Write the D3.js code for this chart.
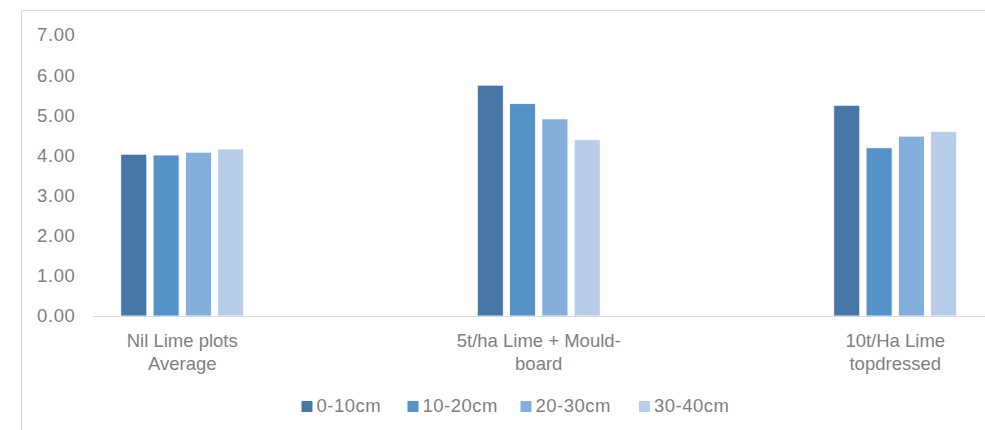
<!DOCTYPE html>
<html>
<head>
<meta charset="utf-8">
<script src="https://cdn.jsdelivr.net/npm/d3@7"></script>
<style>
  html, body { margin: 0; padding: 0; background: #ffffff; }
  svg { display: block; }
  text { font-family: "Liberation Sans", Arial, sans-serif; fill: #7f7f7f; }
</style>
</head>
<body>
<svg id="chart" width="985" height="430"></svg>
<script>
// ---- data ----
const categories = [
  ["Nil Lime plots", "Average"],
  ["5t/ha Lime + Mould-", "board"],
  ["10t/Ha Lime", "topdressed"]
];
const seriesNames = ["0-10cm", "10-20cm", "20-30cm", "30-40cm"];
const s0_10 = [4.03, 5.75, 5.25];
const s10_20 = [4.01, 5.29, 4.19];
const s20_30 = [4.08, 4.91, 4.48];
const s30_40 = [4.16, 4.39, 4.60];
const seriesValues = [s0_10, s10_20, s20_30, s30_40];
const yTicks = [0, 1, 2, 3, 4, 5, 6, 7];
const colors = ["#4677a7", "#5592c8", "#84aedb", "#b7cde9"];

// ---- layout ----
const svg = d3.select("#chart");
const catKeys = categories.map((c, i) => i);

const x0 = d3.scaleBand().domain(catKeys).range([4, 1073.5]).paddingInner(0).paddingOuter(0);
const x1 = d3.scaleBand().domain(seriesNames).range([-64.7, 64.7]).paddingInner(0.195).paddingOuter(0.1);
const y = d3.scaleLinear().domain([0, 7]).range([316, 35]);

// chart border (left & top)
svg.append("path")
  .attr("d", "M21.5,430 L21.5,10.5 L985,10.5")
  .attr("fill", "none").attr("stroke", "#d9d9d9").attr("stroke-width", 1);

// y axis (labels only)
const yAxis = d3.axisLeft(y).tickValues(yTicks).tickFormat(d3.format(".2f")).tickSize(0).tickPadding(0);
const gy = svg.append("g").attr("transform", "translate(75.5,0)").call(yAxis);
gy.select(".domain").remove();
gy.selectAll("text").attr("font-size", "18.5px").attr("letter-spacing", "0.6px")
  .style("font-family", "'Liberation Sans', Arial, sans-serif").attr("fill", "#7f7f7f");

// bars
const groups = svg.append("g").selectAll("g")
  .data(catKeys).join("g")
  .attr("transform", d => `translate(${x0(d) + x0.bandwidth() / 2},0)`);

groups.selectAll("rect")
  .data(ci => seriesNames.map((s, si) => ({ s, si, v: seriesValues[si][ci] })))
  .join("rect")
  .attr("x", d => x1(d.s))
  .attr("width", x1.bandwidth())
  .attr("y", d => y(d.v))
  .attr("height", d => y(0) - y(d.v))
  .attr("fill", d => colors[d.si])
  .attr("stroke", "#ffffff").attr("stroke-width", 0.8);

// x axis line
svg.append("line")
  .attr("x1", 93).attr("x2", 985)
  .attr("y1", y(0) + 0.5).attr("y2", y(0) + 0.5)
  .attr("stroke", "#d9d9d9").attr("stroke-width", 1.2);

// category labels
const xl = svg.append("g").selectAll("text")
  .data(catKeys).join("text")
  .attr("x", d => x0(d) + x0.bandwidth() / 2)
  .attr("y", 347)
  .attr("text-anchor", "middle")
  .attr("font-size", "18.5px");
xl.selectAll("tspan")
  .data(d => categories[d].map(line => ({ line, cx: x0(d) + x0.bandwidth() / 2 })))
  .join("tspan")
  .attr("x", d => d.cx)
  .attr("dy", (d, i) => i === 0 ? 0 : 22.5)
  .text(d => d.line);

// legend
const legendX = [301.5, 407.5, 520.5, 639];
const lg = svg.append("g").selectAll("g")
  .data(seriesNames).join("g")
  .attr("transform", (d, i) => `translate(${legendX[i]},0)`);
lg.append("rect").attr("x", 0).attr("y", 401).attr("width", 11).attr("height", 11)
  .attr("fill", (d, i) => colors[i]);
lg.append("text").attr("x", 15).attr("y", 412).attr("font-size", "18.5px")
  .attr("letter-spacing", "0.5px").text(d => d);
</script>
</body>
</html>
